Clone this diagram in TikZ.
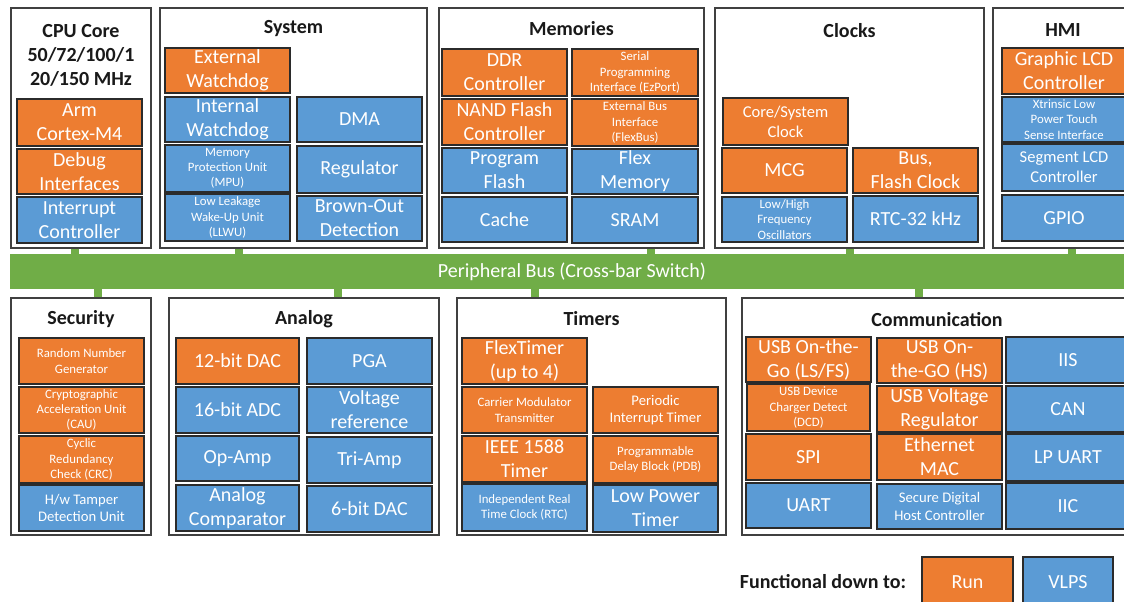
\documentclass[tikz,border=0pt]{standalone}
\usepackage{fontspec}
\setmainfont{Carlito}
\definecolor{orgc}{HTML}{ED7D31}
\definecolor{bluc}{HTML}{5B9BD5}
\definecolor{grnc}{HTML}{70AD47}
\definecolor{edgec}{HTML}{2B2B2B}
\definecolor{outc}{HTML}{404040}
\newcommand\blkbox[7]{\node[#6, minimum width={(#4-#2)*0.75pt}, minimum height={(#5-#3)*0.75pt}] (#1) at ({(#2+#4)/2},{(#3+#5)/2}) {#7};}
\tikzset{
  outer/.style={draw=outc, line width=0.8pt, fill=white, inner sep=0pt},
  inbox/.style={draw=edgec, line width=1pt, text=white, align=center, inner sep=0pt},
  org/.style={inbox, fill=orgc},
  blu/.style={inbox, fill=bluc},
  fL/.style={font=\fontsize{15}{18}\selectfont},
  fM/.style={font=\fontsize{12.4}{15}\selectfont},
  fS/.style={font=\fontsize{11}{13.3}\selectfont},
  fX/.style={font=\fontsize{9.6}{11.4}\selectfont},
  ttl/.style={align=center, inner sep=0pt, text=black!90, font=\bfseries\fontsize{15}{18}\selectfont},
  stub/.style={draw=grnc, line width=6pt},
  busbar/.style={fill=grnc, draw=none, text=white, inner sep=0pt, font=\fontsize{15}{18}\selectfont}
}
\begin{document}
\begin{tikzpicture}[x=0.75pt, y=-0.75pt]
\useasboundingbox (0,0) rectangle (1124,601);
\fill[white] (0,0) rectangle (1124,601);

% bus
\blkbox{bus}{10}{254}{1130}{289}{busbar}{}
\node[text=white, font=\fontsize{15}{18}\selectfont] (bustxt) at (572,271.5) {Peripheral Bus (Cross-bar Switch)};

% outer boxes
\blkbox{cpu}{11}{8}{151}{248}{outer}{}
\blkbox{sys}{160}{8}{427}{248}{outer}{}
\blkbox{mem}{439}{8}{704}{248}{outer}{}
\blkbox{clk}{715}{8}{984}{248}{outer}{}
\blkbox{hmi}{993}{8}{1135}{248}{outer}{}
\blkbox{sec}{11}{298}{151}{535}{outer}{}
\blkbox{ana}{169}{298}{439}{535}{outer}{}
\blkbox{tim}{457}{298}{726}{535}{outer}{}
\blkbox{com}{742}{298}{1135}{535}{outer}{}

% stubs
\coordinate (s1) at (75,0);
\coordinate (s2) at (239,0);
\coordinate (s3) at (651,0);
\coordinate (s4) at (850,0);
\coordinate (s5) at (1072,0);
\coordinate (b1) at (98,0);
\coordinate (b2) at (338,0);
\coordinate (b3) at (535,0);
\coordinate (b4) at (919,0);
\draw[stub] (s1 |- cpu.south) -- (s1 |- bus.north);
\draw[stub] (s2 |- sys.south) -- (s2 |- bus.north);
\draw[stub] (s3 |- mem.south) -- (s3 |- bus.north);
\draw[stub] (s4 |- clk.south) -- (s4 |- bus.north);
\draw[stub] (s5 |- hmi.south) -- (s5 |- bus.north);
\draw[stub] (b1 |- bus.south) -- (b1 |- sec.north);
\draw[stub] (b2 |- bus.south) -- (b2 |- ana.north);
\draw[stub] (b3 |- bus.south) -- (b3 |- tim.north);
\draw[stub] (b4 |- bus.south) -- (b4 |- com.north);

% titles
\node[ttl] (cput) at (81,55) {CPU Core\\50/72/100/1\\20/150 MHz};
\node[ttl] (syst) at (293.5,29) {System};
\node[ttl] (memt) at (571.5,29) {Memories};
\node[ttl] (clkt) at (849.5,31) {Clocks};
\node[ttl] (hmit) at (1063,30) {HMI};
\node[ttl] (sect) at (81,319) {Security};
\node[ttl] (anat) at (304,319) {Analog};
\node[ttl] (timt) at (591.5,319) {Timers};
\node[ttl] (comt) at (937,320) {Communication};

% CPU
\blkbox{arm}{17}{99}{142}{146}{org,fL}{Arm\\Cortex-M4}
\blkbox{dbg}{17}{149}{142}{194}{org,fL}{Debug\\Interfaces}
\blkbox{irq}{17}{197}{142}{243}{blu,fL}{Interrupt\\Controller}

% System
\blkbox{ewd}{165}{48}{290}{93}{org,fL}{External\\Watchdog}
\blkbox{iwd}{165}{97}{290}{142}{blu,fL}{Internal\\Watchdog}
\blkbox{mpu}{165}{145}{290}{192}{blu,fX}{Memory\\Protection Unit\\(MPU)}
\blkbox{llwu}{165}{194}{290}{241}{blu,fX}{Low Leakage\\Wake-Up Unit\\(LLWU)}
\blkbox{dma}{297}{97}{422}{142}{blu,fL}{DMA}
\blkbox{reg}{297}{146}{422}{193}{blu,fL}{Regulator}
\blkbox{bod}{297}{196}{422}{241}{blu,fL}{Brown-Out\\Detection}

% Memories
\blkbox{ddr}{442}{49}{567}{96}{org,fL}{DDR\\Controller}
\blkbox{nand}{442}{99}{567}{145}{org,fL}{NAND Flash\\Controller}
\blkbox{pfl}{442}{148}{567}{193}{blu,fL}{Program\\Flash}
\blkbox{cache}{442}{197}{567}{242}{blu,fL}{Cache}
\blkbox{ezp}{572}{49}{698}{96}{org,fX}{Serial\\Programming\\Interface (EzPort)}
\blkbox{fbus}{572}{99}{698}{146}{org,fX}{External Bus\\Interface\\(FlexBus)}
\blkbox{fmem}{572}{149}{698}{194}{blu,fL}{Flex\\Memory}
\blkbox{sram}{572}{197}{698}{243}{blu,fL}{SRAM}

% Clocks
\blkbox{csc}{723}{98}{848}{145}{org,fM}{Core/System\\Clock}
\blkbox{mcg}{722}{148}{847}{193}{org,fL}{MCG}
\blkbox{osc}{722}{197}{847}{242}{blu,fX}{Low/High\\Frequency\\Oscillators}
\blkbox{bfc}{853}{148}{978}{193}{org,fL}{Bus,\\Flash Clock}
\blkbox{rtc}{853}{196}{978}{242}{blu,fL}{RTC-32 kHz}

% HMI
\blkbox{glcd}{1002}{48}{1126}{94}{org,fL}{Graphic LCD\\Controller}
\blkbox{tsi}{1002}{97}{1126}{142}{blu,fX}{Xtrinsic Low\\Power Touch\\Sense Interface}
\blkbox{slcd}{1002}{144}{1126}{191}{blu,fM}{Segment LCD\\Controller}
\blkbox{gpio}{1002}{195}{1126}{241}{blu,fL}{GPIO}

% Security
\blkbox{rng}{19}{338}{144}{384}{org,fX}{Random Number\\Generator}
\blkbox{cau}{19}{387}{144}{433}{org,fX}{Cryptographic\\Acceleration Unit\\(CAU)}
\blkbox{crc}{19}{436}{144}{483}{org,fX}{Cyclic\\Redundancy\\Check (CRC)}
\blkbox{tamp}{19}{485}{144}{531}{blu,fS}{H/w Tamper\\Detection Unit}

% Analog
\blkbox{dac12}{176}{338}{299}{384}{org,fL}{12-bit DAC}
\blkbox{adc16}{176}{387}{299}{433}{blu,fL}{16-bit ADC}
\blkbox{opamp}{176}{436}{299}{481}{blu,fL}{Op-Amp}
\blkbox{acmp}{176}{485}{299}{531}{blu,fL}{Analog\\Comparator}
\blkbox{pga}{307}{338}{432}{384}{blu,fL}{PGA}
\blkbox{vref}{307}{387}{432}{433}{blu,fL}{Voltage\\reference}
\blkbox{triamp}{307}{437}{432}{483}{blu,fL}{Tri-Amp}
\blkbox{dac6}{307}{486}{432}{532}{blu,fL}{6-bit DAC}

% Timers
\blkbox{ftm}{462}{338}{587}{384}{org,fL}{FlexTimer\\(up to 4)}
\blkbox{cmt}{462}{387}{587}{433}{org,fX}{Carrier Modulator\\Transmitter}
\blkbox{ieee}{462}{436}{587}{482}{org,fL}{IEEE 1588\\Timer}
\blkbox{irtc}{462}{484}{587}{531}{blu,fX}{Independent Real\\Time Clock (RTC)}
\blkbox{pit}{593}{387}{718}{433}{org,fS}{Periodic\\Interrupt Timer}
\blkbox{pdb}{593}{436}{718}{483}{org,fX}{Programmable\\Delay Block (PDB)}
\blkbox{lpt}{593}{485}{718}{532}{blu,fL}{Low Power\\Timer}

% Communication
\blkbox{usbfs}{746}{337}{871}{382}{org,fL}{USB On-the-\\Go (LS/FS)}
\blkbox{dcd}{747}{384}{870}{431}{org,fX}{USB Device\\Charger Detect\\(DCD)}
\blkbox{spi}{746}{434}{871}{480}{org,fL}{SPI}
\blkbox{uart}{746}{483}{871}{528}{blu,fL}{UART}
\blkbox{usbhs}{877}{338}{1002}{383}{org,fL}{USB On-\\the-GO (HS)}
\blkbox{usbvr}{877}{386}{1002}{432}{org,fL}{USB Voltage\\Regulator}
\blkbox{enet}{877}{434}{1002}{480}{org,fL}{Ethernet\\MAC}
\blkbox{sdhc}{877}{484}{1002}{529}{blu,fS}{Secure Digital\\Host Controller}
\blkbox{iis}{1006}{337}{1130}{383}{blu,fL}{IIS}
\blkbox{can}{1006}{386}{1130}{432}{blu,fL}{CAN}
\blkbox{lpuart}{1006}{434}{1130}{481}{blu,fL}{LP UART}
\blkbox{iic}{1006}{483}{1130}{529}{blu,fL}{IIC}

% Legend
\node[ttl] (legt) at (823,582) {Functional down to:};
\blkbox{run}{922}{557}{1013}{607}{org,fL}{Run}
\blkbox{vlps}{1023}{557}{1113}{607}{blu,fL}{VLPS}
\end{tikzpicture}
\end{document}
